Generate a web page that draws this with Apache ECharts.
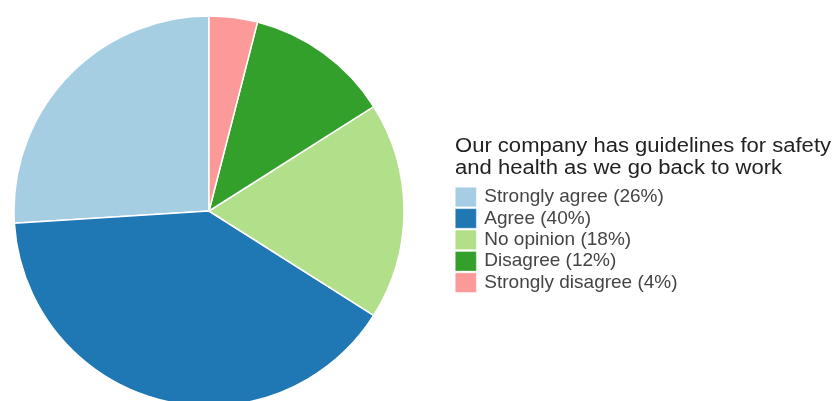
<!DOCTYPE html>
<html>
<head>
<meta charset="utf-8">
<script src="https://cdn.jsdelivr.net/npm/echarts@6/dist/echarts.min.js"></script>
<style>
  html, body { margin: 0; padding: 0; background: #fff; }
  #chart { width: 832px; height: 401px; }
</style>
</head>
<body>
<div id="chart"></div>
<script>
// Survey responses
const categories = ['Strongly agree', 'Agree', 'No opinion', 'Disagree', 'Strongly disagree'];
const values = [26, 40, 18, 12, 4];
const colors = ['#a6cee3', '#1f78b4', '#b2df8a', '#33a02c', '#fb9a99'];
const titleLines = ['Our company has guidelines for safety', 'and health as we go back to work'];

const chart = echarts.init(document.getElementById('chart'), null, { renderer: 'canvas' });
const total = values.reduce((a, b) => a + b, 0);

chart.setOption({
  animation: false,
  color: colors,
  graphic: [{
    type: 'text',
    left: 455,
    top: 135,
    scaleX: 1.13,
    style: {
      text: titleLines.join('\n'),
      font: '19.5px "Liberation Sans", Arial, sans-serif',
      lineHeight: 22.5,
      fill: '#222'
    }
  }],
  legend: {
    orient: 'vertical',
    left: 455,
    top: 187,
    padding: 0,
    icon: 'rect',
    itemWidth: 21,
    itemHeight: 19.5,
    itemGap: 1.3,
    selectedMode: false,
    itemStyle: { borderWidth: 0.6, borderColor: 'rgba(255,255,255,0.5)' },
    textStyle: {
      fontFamily: '"Liberation Sans", Arial, sans-serif',
      fontSize: 19,
      lineHeight: 19,
      color: '#444',
      padding: [0, 0, 0, 3]
    },
    formatter: function (name) {
      const i = categories.indexOf(name);
      return name + ' (' + Math.round(values[i] / total * 100) + '%)';
    },
    data: categories
  },
  series: [{
    type: 'pie',
    center: [209, 211],
    radius: [0, 195],
    startAngle: 90,
    clockwise: false,
    label: { show: false },
    labelLine: { show: false },
    emphasis: { disabled: true },
    itemStyle: { borderColor: '#fff', borderWidth: 1.5 },
    data: categories.map((c, i) => ({ name: c, value: values[i] }))
  }]
});
</script>
</body>
</html>
